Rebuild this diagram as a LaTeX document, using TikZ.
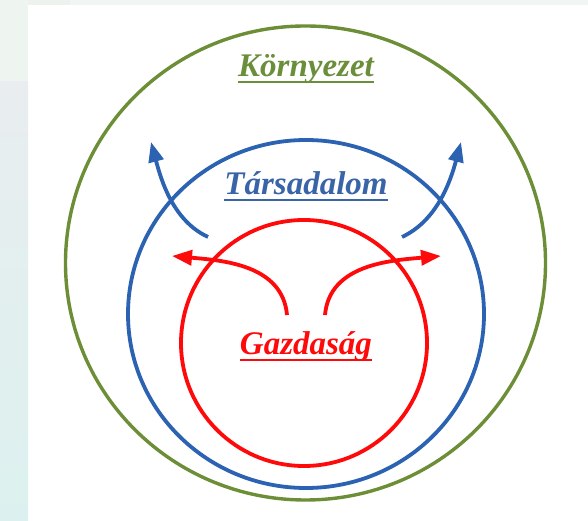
\documentclass[tikz,border=0pt]{standalone}
\usepackage{fontspec}
\setmainfont{Liberation Serif}
\usetikzlibrary{arrows.meta}
\definecolor{envgreen}{HTML}{6C8E36}
\definecolor{envtext}{HTML}{6B8E3A}
\definecolor{socblue}{HTML}{2C62B2}
\definecolor{soctext}{HTML}{3A64A8}
\definecolor{ecored}{HTML}{FF0A0A}
\definecolor{bgtop}{HTML}{EEF4F0}
\definecolor{bgmid}{HTML}{E9EDEF}
\definecolor{bgbot}{HTML}{DCF1EF}
\definecolor{bgstrip}{HTML}{EDF2EF}
\definecolor{bgstripb}{HTML}{F1F6F5}
\begin{document}
\begin{tikzpicture}[x=1pt,y=1pt,
  label/.style={inner sep=0pt,anchor=base,font=\fontsize{33}{38}\selectfont\bfseries\itshape},
  ring/.style={line width=3.8pt},
  flow/.style={line width=3.8pt,-{Triangle[length=20pt,width=15pt]}}]
\useasboundingbox (0,0) rectangle (588,521);
% background
\fill[white] (0,0) rectangle (588,521);
\fill[bgtop] (0,439) rectangle (28,521);
\shade[top color=bgmid,bottom color=bgbot] (0,0) rectangle (28,439);
\fill[bgstrip] (28,516) rectangle (588,521);
\fill[bgstripb] (70,516) rectangle (588,521);
% rings
\draw[ring,envgreen,line width=3.4pt] (305.5,258) ellipse [x radius=240,y radius=237];
\draw[ring,socblue] (306,207) ellipse [x radius=178,y radius=174];
\draw[ring,ecored] (304,178) circle [radius=123];
% labels
\node[label,text=envtext] (env) at (306,444) {Környezet};
\node[label,text=soctext] (soc) at (306,326) {Társadalom};
\node[label,text=ecored] (eco) at (306,166) {Gazdaság};
\draw[envtext,line width=2.6pt] ([yshift=-5pt]env.base west) -- ([yshift=-5pt]env.base east);
\draw[soctext,line width=2.6pt] ([yshift=-5pt]soc.base west) -- ([yshift=-5pt]soc.base east);
\draw[ecored,line width=2.6pt] ([yshift=-5pt]eco.base west) -- ([yshift=-5pt]eco.base east);
% arrows
\coordinate (bls) at (208,284);
\coordinate (blt) at (151,379);
\coordinate (brs) at (402,284);
\coordinate (brt) at (461,379);
\coordinate (rls) at (287,206);
\coordinate (rlt) at (172,265);
\coordinate (rrs) at (325,206);
\coordinate (rrt) at (441,265);
\draw[flow,socblue] (bls) to[out=155,in=-75,looseness=0.9] (blt);
\draw[flow,socblue] (brs) to[out=25,in=-105,looseness=0.9] (brt);
\draw[flow,ecored] (rls) to[out=95,in=-5] (rlt);
\draw[flow,ecored] (rrs) to[out=85,in=185] (rrt);
\end{tikzpicture}
\end{document}
